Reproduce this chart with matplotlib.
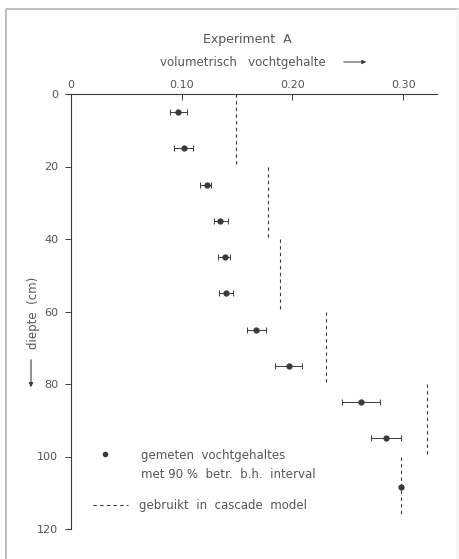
import matplotlib
matplotlib.use("Agg")
from matplotlib import pyplot as plt
from matplotlib.lines import Line2D
from matplotlib.patches import FancyArrowPatch

# measured water content per layer
depth = [5, 15, 25, 35, 45, 55, 65, 75, 85, 95]
theta = [0.097, 0.102, 0.123, 0.135, 0.139, 0.140, 0.167, 0.197, 0.262, 0.284]
theta_lo = [0.090, 0.093, 0.117, 0.129, 0.133, 0.134, 0.159, 0.184, 0.245, 0.271]
theta_hi = [0.105, 0.110, 0.127, 0.142, 0.144, 0.146, 0.176, 0.209, 0.279, 0.298]

# single point without interval
extra_depth = [108.5]
extra_theta = [0.298]

# values used in cascade model
layer_top = [0, 20, 40, 60, 80, 100]
layer_bottom = [20, 40, 60, 80, 100, 116]
layer_theta = [0.149, 0.178, 0.189, 0.230, 0.321, 0.298]

xticks = [0, 0.10, 0.20, 0.30]
xticklabels = ["0", "0.10", "0.20", "0.30"]
yticks = [0, 20, 40, 60, 80, 100, 120]

W, H = 459, 559
ink = "#3a3a3a"
txt = "#555555"

fig = plt.figure(figsize=(W / 100, H / 100), dpi=100)
fig.patch.set_facecolor("white")

def fx(px):
    return px / W

def fy(py):
    return 1 - py / H

# axes placement in pixels
x0, x1 = 70.7, 436.5
y0, y1 = 94, 529
ax = fig.add_axes([fx(x0), fy(y1), fx(x1) - fx(x0), fy(y0) - fy(y1)])
ax.set_xlim(0, 0.33)
ax.set_ylim(120, 0)

for s in ["right", "bottom"]:
    ax.spines[s].set_visible(False)
for s in ["left", "top"]:
    ax.spines[s].set_color(ink)
    ax.spines[s].set_linewidth(0.8)

ax.xaxis.tick_top()
ax.set_xticks(xticks)
ax.set_xticklabels(xticklabels)
ax.tick_params(axis="x", direction="in", length=4, width=0.7, colors=ink,
               labelcolor=txt, labelsize=8, pad=3)
ax.set_yticks(yticks)
ax.tick_params(axis="y", direction="out", length=4, width=0.7, colors=ink,
               labelcolor=txt, labelsize=8, pad=5)

# measurements with interval
xerr = [[t - l for t, l in zip(theta, theta_lo)], [h - t for t, h in zip(theta, theta_hi)]]
ax.errorbar(theta, depth, xerr=xerr, fmt="o", color=ink, ms=3.5, elinewidth=0.7,
            capsize=2.3, capthick=0.7)
ax.plot(extra_theta, extra_depth, "o", color=ink, ms=3.5)

# cascade model layers
ax.vlines(layer_theta, layer_top, layer_bottom, colors=ink, linewidth=0.8,
          linestyles=(0, (3, 3)))

# titles
fig.text(fx(247), fy(40), "Experiment  A", ha="center", va="center",
         fontsize=9, color=txt)
fig.text(fx(160), fy(62), "volumetrisch   vochtgehalte", ha="left", va="center",
         fontsize=8.5, color=txt)
fig.add_artist(FancyArrowPatch((fx(341), fy(62)), (fx(369), fy(62)),
                               transform=fig.transFigure, arrowstyle="-|>",
                               mutation_scale=6, color=ink, lw=0.7))

# y label with arrow
fig.text(fx(33), fy(313), "diepte  (cm)", rotation=90, ha="center", va="center",
         fontsize=8.5, color=txt)
fig.add_artist(FancyArrowPatch((fx(31), fy(357)), (fx(31), fy(390)),
                               transform=fig.transFigure, arrowstyle="-|>",
                               mutation_scale=6, color=ink, lw=0.8))

# legend
fig.add_artist(Line2D([fx(105)], [fy(454)], marker="o", ms=3, color=ink,
                      transform=fig.transFigure))
fig.text(fx(141), fy(455), "gemeten  vochtgehaltes", ha="left", va="center",
         fontsize=8.5, color=txt)
fig.text(fx(141), fy(474), "met 90 %  betr.  b.h.  interval", ha="left", va="center",
         fontsize=8.5, color=txt)
fig.add_artist(Line2D([fx(93), fx(128)], [fy(505), fy(505)], color=ink, lw=0.8,
                      linestyle=(0, (3, 3)), transform=fig.transFigure))
fig.text(fx(139), fy(505), "gebruikt  in  cascade  model", ha="left", va="center",
         fontsize=8.5, color=txt)

# page frame from the scan
fig.add_artist(Line2D([fx(5.5), fx(5.5), fx(458)], [fy(559), fy(9), fy(9)],
                      color="#b5b5b5", lw=1.2, transform=fig.transFigure))
fig.add_artist(Line2D([fx(457), fx(457)], [fy(9), fy(559)],
                      color="#ececec", lw=1.0, transform=fig.transFigure))

fig.savefig("out.png", dpi=100, facecolor="white")
